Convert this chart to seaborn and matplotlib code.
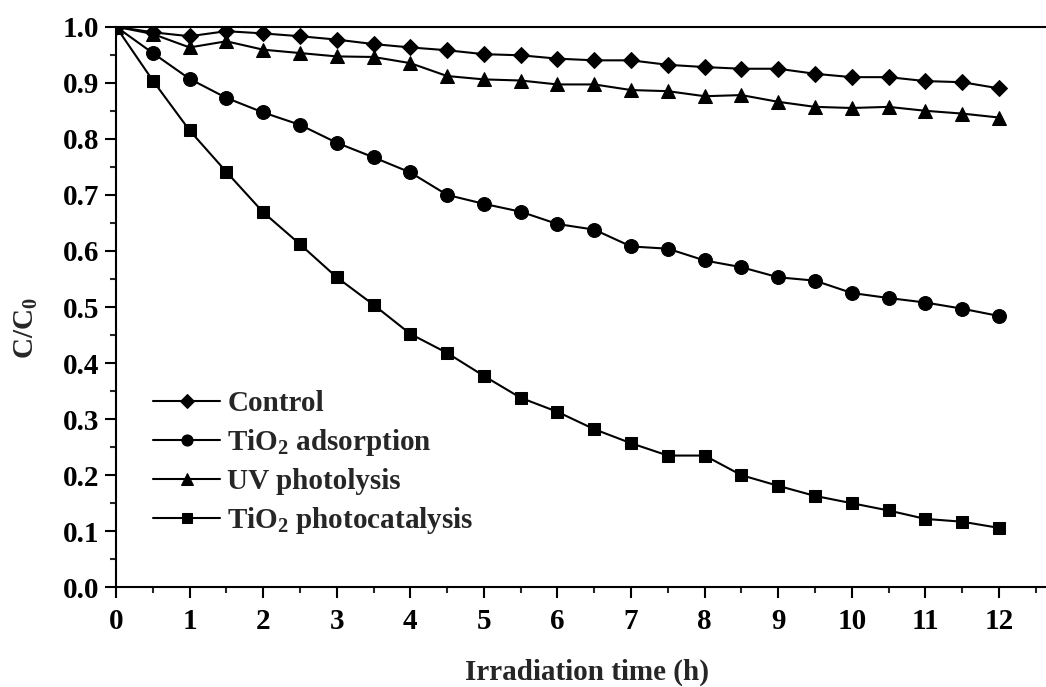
import matplotlib
matplotlib.use("Agg")
import matplotlib.pyplot as plt
from matplotlib.ticker import MultipleLocator, FormatStrFormatter
import pandas as pd
import seaborn as sns

# Irradiation time (h)
time_h = [0, 0.5, 1, 1.5, 2, 2.5, 3, 3.5, 4, 4.5, 5, 5.5, 6,
          6.5, 7, 7.5, 8, 8.5, 9, 9.5, 10, 10.5, 11, 11.5, 12]

# Relative concentration C/C0 for each treatment
control = [1.0, 0.990, 0.983, 0.992, 0.988, 0.983, 0.977, 0.969, 0.963, 0.958,
           0.951, 0.949, 0.943, 0.940, 0.940, 0.932, 0.928, 0.925, 0.925, 0.916,
           0.910, 0.910, 0.903, 0.901, 0.890]
tio2_adsorption = [1.0, 0.953, 0.907, 0.873, 0.847, 0.825, 0.793, 0.767, 0.740, 0.700,
                   0.684, 0.670, 0.648, 0.638, 0.608, 0.604, 0.583, 0.571, 0.553, 0.547,
                   0.525, 0.516, 0.508, 0.497, 0.484]
uv_photolysis = [1.0, 0.987, 0.963, 0.974, 0.959, 0.953, 0.947, 0.946, 0.935, 0.912,
                 0.906, 0.904, 0.897, 0.897, 0.887, 0.885, 0.876, 0.878, 0.866, 0.857,
                 0.855, 0.857, 0.850, 0.845, 0.838]
tio2_photocatalysis = [1.0, 0.904, 0.815, 0.741, 0.669, 0.612, 0.553, 0.504, 0.452, 0.418,
                       0.377, 0.338, 0.313, 0.282, 0.257, 0.235, 0.235, 0.200, 0.181, 0.163,
                       0.150, 0.137, 0.122, 0.117, 0.106]

series_labels = ["Control", "TiO$_2$ adsorption", "UV photolysis", "TiO$_2$ photocatalysis"]
series_values = [control, tio2_adsorption, uv_photolysis, tio2_photocatalysis]
series_markers = ["D", "o", "^", "s"]
series_msize = [8.6, 10, 10.5, 9]

sns.set_style("ticks")
plt.rcParams["font.family"] = ["Liberation Serif", "DejaVu Serif"]
plt.rcParams["font.weight"] = "bold"
plt.rcParams["mathtext.fontset"] = "custom"
plt.rcParams["mathtext.rm"] = "Liberation Serif:bold"
plt.rcParams["mathtext.it"] = "Liberation Serif:bold"
plt.rcParams["mathtext.bf"] = "Liberation Serif:bold"
plt.rcParams["mathtext.default"] = "bf"

FS = 21

W, H = 1046, 687
fig = plt.figure(figsize=(W / 100, H / 100), dpi=100)
left_px, right_px, top_px, bottom_px = 116, 1046, 26.7, 587.3
ax = fig.add_axes([left_px / W, (H - bottom_px) / H,
                   (right_px - left_px) / W, (bottom_px - top_px) / H])

frames = []
for lab, vals in zip(series_labels, series_values):
    frames.append(pd.DataFrame({"time": time_h, "ratio": vals, "series": lab}))
df = pd.concat(frames, ignore_index=True)

order = [2, 1, 3, 0]  # draw control on top
for i in order:
    lab = series_labels[i]
    sub = df[df["series"] == lab]
    sns.lineplot(data=sub, x="time", y="ratio", ax=ax, color="black",
                 marker=series_markers[i], markersize=series_msize[i],
                 markeredgecolor="black", markerfacecolor="black",
                 linewidth=1.5, label=lab, zorder=3 + i)

xmax = (right_px - left_px) / 73.58
ax.set_xlim(0, xmax)
ax.set_ylim(0, 1.0)
ax.xaxis.set_major_locator(MultipleLocator(1))
ax.xaxis.set_minor_locator(MultipleLocator(0.5))
ax.yaxis.set_major_locator(MultipleLocator(0.1))
ax.yaxis.set_minor_locator(MultipleLocator(0.05))
ax.yaxis.set_major_formatter(FormatStrFormatter("%.1f"))

ax.tick_params(which="major", direction="out", length=8, width=1.5,
               labelsize=FS, colors="black")
ax.tick_params(which="minor", direction="out", length=4, width=1.5)
ax.tick_params(axis="x", which="major", pad=7)
ax.tick_params(axis="y", which="major", pad=4)
for lbl in ax.get_xticklabels() + ax.get_yticklabels():
    lbl.set_fontweight("bold")

ax.spines["right"].set_visible(False)
for s in ["left", "top", "bottom"]:
    ax.spines[s].set_linewidth(1.5)
    ax.spines[s].set_color("black")

ax.set_xlabel("Irradiation time (h)", fontsize=FS, fontweight="bold")
ax.xaxis.set_label_coords(0.5065, -0.128)
ax.set_ylabel("C/C$_0$", fontsize=FS, fontweight="bold")
ax.yaxis.set_label_coords(-0.0817, 0.463)

h, l = ax.get_legend_handles_labels()
lookup = dict(zip(l, h))
ax.legend([lookup[s] for s in series_labels], series_labels,
          loc="upper left", bbox_to_anchor=(153 / W, (H - 390) / H),
          bbox_transform=fig.transFigure, markerscale=0.8,
          frameon=False, fontsize=FS, handlelength=2.3, handletextpad=0.25,
          labelspacing=0.345, borderaxespad=0, borderpad=0)

fig.savefig("out.png", dpi=100, facecolor="white")
